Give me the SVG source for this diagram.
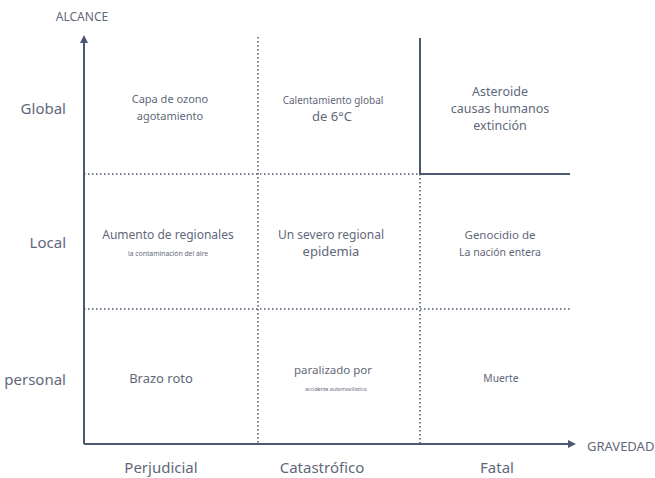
<svg xmlns="http://www.w3.org/2000/svg" width="655" height="478" viewBox="0 0 655 478">
<style>
text{font-family:"Noto Sans","Open Sans","Liberation Sans",sans-serif;fill:#5f687a}
.c{text-anchor:middle}
.r{text-anchor:end}
.ax{stroke:#4b5872;stroke-width:2;fill:none}
.dot{stroke:#4b5872;stroke-width:1.5;stroke-dasharray:1.5 2.5;fill:none}
</style>
<defs>
<marker id="ah" markerWidth="8" markerHeight="8" refX="6" refY="4" orient="auto" markerUnits="userSpaceOnUse"><path d="M0,0 L8,4 L0,8 Z" fill="#4b5872"/></marker>
</defs>
<rect width="655" height="478" fill="#fff"/>
<g id="connectors">
<line class="dot" x1="84" y1="174" x2="420" y2="174"/>
<line class="dot" x1="84" y1="309" x2="570" y2="309"/>
<line class="dot" x1="258" y1="37" x2="258" y2="444"/>
<line class="dot" x1="420" y1="174" x2="420" y2="444"/>
<path class="ax" d="M420,38 V174 H570"/>
<line class="ax" x1="84" y1="444" x2="84" y2="37" marker-end="url(#ah)"/>
<line class="ax" x1="84" y1="444" x2="574" y2="444" marker-end="url(#ah)"/>
</g>
<g id="axis-labels">
<text class="c" x="82" y="21" font-size="12">ALCANCE</text>
<text x="587" y="451" font-size="13">GRAVEDAD</text>
<text class="r" x="66" y="114" font-size="15">Global</text>
<text class="r" x="66" y="248" font-size="15">Local</text>
<text class="r" x="66" y="385" font-size="15">personal</text>
<text class="c" x="161" y="473" font-size="15">Perjudicial</text>
<text class="c" x="322" y="473" font-size="15">Catastrófico</text>
<text class="c" x="497" y="473" font-size="15">Fatal</text>
</g>
<g id="cell-ozono">
<text class="c" x="170" y="103" font-size="11">Capa de ozono</text>
<text class="c" x="170" y="120" font-size="11">agotamiento</text>
</g>
<g id="cell-calentamiento">
<text class="c" x="333" y="104" font-size="10">Calentamiento global</text>
<text class="c" x="332" y="121" font-size="13">de 6°C</text>
</g>
<g id="cell-asteroide">
<text class="c" x="500" y="96" font-size="12.5">Asteroide</text>
<text class="c" x="500" y="113" font-size="12.5">causas humanos</text>
<text class="c" x="500" y="130" font-size="12.5">extinción</text>
</g>
<g id="cell-contaminacion">
<text class="c" x="168" y="239" font-size="12">Aumento de regionales</text>
<text class="c" x="168" y="256" font-size="6.8">la contaminación del aire</text>
</g>
<g id="cell-epidemia">
<text class="c" x="331" y="239" font-size="12">Un severo regional</text>
<text class="c" x="331" y="256" font-size="13">epidemia</text>
</g>
<g id="cell-genocidio">
<text class="c" x="500" y="239" font-size="11.5">Genocidio de</text>
<text class="c" x="500" y="256" font-size="10.5">La nación entera</text>
</g>
<g id="cell-brazo">
<text class="c" x="161" y="383" font-size="13">Brazo roto</text>
</g>
<g id="cell-paralizado">
<text class="c" x="333" y="374" font-size="11.5">paralizado por</text>
<text class="c" x="336" y="391" font-size="5.2">accidente automovilístico</text>
</g>
<g id="cell-muerte">
<text class="c" x="501" y="382" font-size="10.3">Muerte</text>
</g>
</svg>
